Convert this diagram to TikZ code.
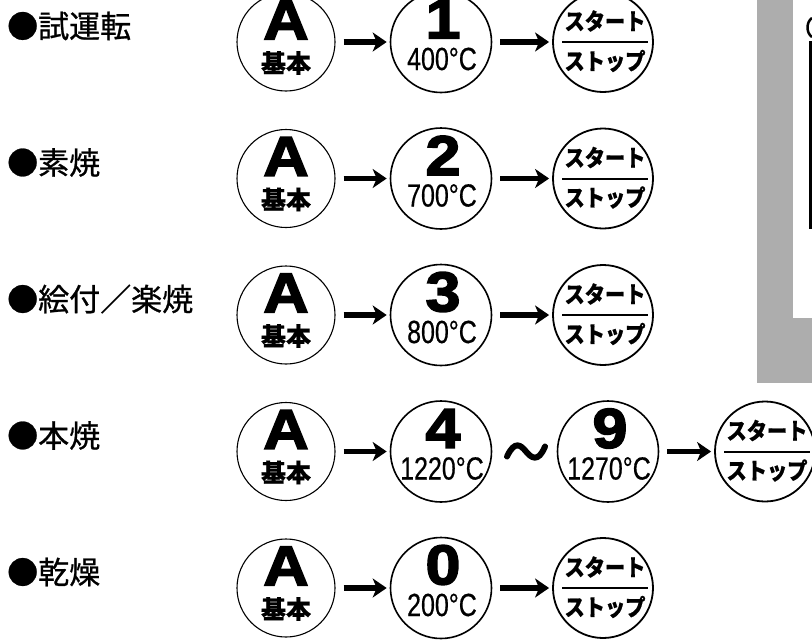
\documentclass[tikz,border=0pt]{standalone}
\usepackage{fontspec}
\newfontfamily\jp{Noto Sans CJK JP}[FakeBold=0.8]
\newfontfamily\jpb{Noto Sans CJK JP}[FakeBold=0.6]
\newfontfamily\jpss{Noto Sans CJK JP}[FakeBold=0.6, FakeStretch=0.88]
\newfontfamily\heavy{Liberation Sans}[FakeBold=3, FakeStretch=1.12]
\newfontfamily\narrow{Liberation Sans}[FakeBold=0.5, FakeStretch=0.78]
\usetikzlibrary{arrows.meta}
\tikzset{
  rowlabel/.style={anchor=west, inner sep=0pt, font=\jp\fontsize{31}{31}\selectfont},
  ringA/.style={circle, draw, line width=1.1pt, inner sep=0pt, minimum size=98pt},
  ringN/.style={circle, draw, line width=1.6pt, inner sep=0pt, minimum size=101pt},
  ringS/.style={circle, draw, line width=1.8pt, inner sep=0pt, minimum size=100pt},
  bigglyph/.style={inner sep=0pt, font=\heavy\bfseries\fontsize{56}{56}\selectfont},
  kihon/.style={inner sep=0pt, font=\jpb\bfseries\fontsize{25}{25}\selectfont},
  temp/.style={inner sep=0pt, font=\narrow\fontsize{32}{32}\selectfont},
  sstext/.style={inner sep=0pt, font=\jpss\bfseries\fontsize{23}{23}\selectfont},
  bar/.style={line width=2pt},
  arr/.style={line width=5.5pt, -{Stealth[length=14pt,width=19pt,inset=4pt]}, shorten <=8pt, shorten >=3pt},
  panel/.style={fill=black!32, draw=none},
}
\begin{document}
\begin{tikzpicture}[x=1pt,y=-1pt]
\useasboundingbox (0,0) rectangle (812,640);
% right-hand panel
\fill[panel] (757,0) rectangle (812,383);
\fill[white] (793,0) rectangle (812,318);
\draw[line width=2.5pt] (812,18) .. controls (806,22) and (806,33) .. (812,37);
\draw[line width=2.5pt] (812,42) -- (810.5,42) -- (810.5,228) -- (812,228);
% regular rows
\foreach \r/\y/\name/\d/\t in {1/42/試運転/1/400, 2/178.5/素焼/2/700, 3/315/絵付／楽焼/3/800, 5/588/乾燥/0/200}{
  \node[rowlabel] (t\r) at (7,\y-16) {●\name};
  \node[ringA] (a\r) at (286,\y) {};
  \node[bigglyph] (aA\r) at (286,\y-22) {A};
  \node[kihon] (ak\r) at (286,\y+21) {基本};
  \node[ringN] (n\r) at (441,\y) {};
  \node[bigglyph] (nd\r) at (443,\y-23) {\d};
  \node[temp] (nt\r) at (442,\y+17) {\t°C};
  \node[ringS] (s\r) at (603,\y) {};
  \node[sstext] (su\r) at (605,\y-21) {スタート};
  \node[sstext] (sl\r) at (605,\y+19) {ストップ};
  \draw[bar] ([xshift=-41pt]s\r.center) -- ([xshift=45pt]s\r.center);
  \draw[arr] (a\r) -- (n\r);
  \draw[arr] (n\r) -- (s\r);
}
% row 4
\node[rowlabel] (t4) at (7,451.5-16) {●本焼};
\node[ringA] (a4) at (286,451.5) {};
\node[bigglyph] (aA4) at (286,451.5-22) {A};
\node[kihon] (ak4) at (286,451.5+21) {基本};
\node[ringN] (n4) at (441,451.5) {};
\node[bigglyph] (nd4) at (443,451.5-23) {4};
\node[temp] (nt4) at (442,451.5+17) {1220°C};
\node[ringN] (m4) at (608,451.5) {};
\node[bigglyph] (md4) at (610,451.5-23) {9};
\node[temp] (mt4) at (609,451.5+17) {1270°C};
\coordinate (w4) at (526,451.5);
\draw[line width=6pt, line cap=round] ([xshift=-19pt,yshift=-5pt]w4) .. controls ([xshift=-11pt,yshift=12pt]w4) and ([xshift=-5pt,yshift=6pt]w4) .. (w4) .. controls ([xshift=5pt,yshift=-6pt]w4) and ([xshift=12pt,yshift=-12pt]w4) .. ([xshift=19pt,yshift=5pt]w4);
\node[ringS] (s4) at (765,451.5) {};
\node[sstext] (su4) at (767,451.5-21) {スタート};
\node[sstext] (sl4) at (767,451.5+19) {ストップ};
\draw[bar] ([xshift=-41pt]s4.center) -- ([xshift=45pt]s4.center);
\draw[arr] (a4) -- (n4);
\draw[arr] (m4) -- (s4);
\end{tikzpicture}
\end{document}
